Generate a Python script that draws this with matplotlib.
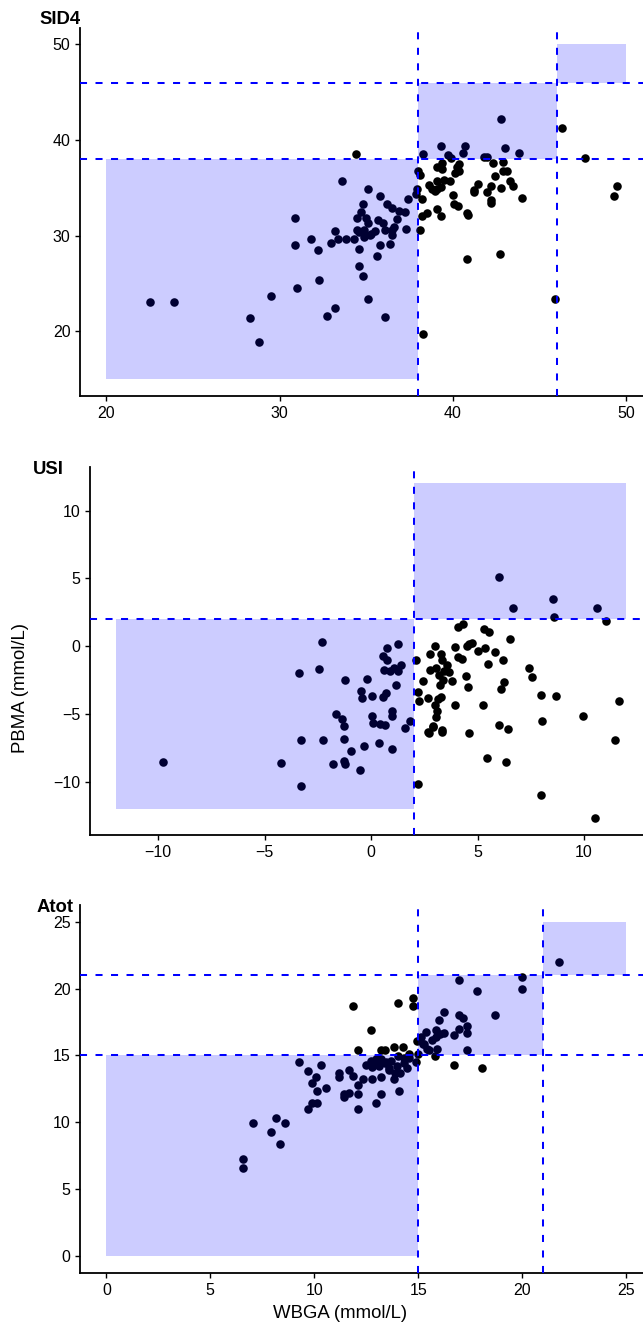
import numpy as np
import matplotlib
matplotlib.use('Agg')
import matplotlib.pyplot as plt
from matplotlib.patches import Rectangle

plt.rcParams['font.family'] = ['Liberation Sans', 'DejaVu Sans']

# --- data ------------------------------------------------------------------
# SID4 panel (WBGA vs PBMA)
sid4_x = [22.51, 23.91, 28.29, 28.79, 29.50, 30.89, 30.89, 30.99, 31.82, 32.20,
          32.29, 32.72, 33.19, 32.98, 33.19, 33.59, 33.38, 33.83, 34.40, 34.30,
          34.49, 34.61, 34.61, 34.61, 34.68, 34.80, 34.80, 34.89, 34.89, 35.01,
          35.11, 35.11, 35.11, 35.20, 35.49, 35.61, 35.70, 35.80, 35.80, 35.98,
          36.10, 36.10, 36.20, 36.39, 36.50, 36.50, 36.60, 36.79, 36.91, 37.22,
          37.29, 37.40, 37.85, 37.93, 38.00, 38.09, 38.09, 38.21, 38.21, 38.30,
          38.30, 38.52, 38.64, 38.80, 38.99, 39.11, 39.11, 39.11, 39.30, 39.30,
          39.30, 39.39, 39.39, 39.51, 39.70, 39.82, 39.89, 40.01, 40.06, 40.13,
          40.22, 40.29, 40.36, 40.36, 40.58, 40.72, 40.81, 40.89, 40.81, 41.24,
          41.24, 41.48, 41.79, 41.95, 41.95, 42.19, 42.19, 42.19, 42.31, 42.42,
          42.71, 42.78, 42.78, 42.90, 42.90, 43.02, 43.14, 43.30, 43.49, 43.80,
          44.01, 45.91, 46.33, 47.63, 49.29, 49.48, 39.11, 36.50, 34.48, 35.25]
sid4_y = [23.09, 23.09, 21.36, 18.89, 23.68, 31.82, 29.04, 24.55, 29.63, 28.55,
          25.42, 21.63, 22.50, 29.28, 30.46, 35.75, 29.66, 29.66, 38.56, 29.66,
          31.85, 28.62, 26.81, 30.39, 32.44, 33.35, 25.84, 30.64, 29.84, 31.85,
          34.91, 23.41, 31.33, 30.11, 30.46, 27.92, 31.68, 34.18, 29.00, 31.33,
          30.64, 21.53, 33.35, 29.17, 32.90, 30.11, 30.88, 31.75, 32.62, 32.48,
          30.71, 33.87, 34.36, 34.91, 36.72, 36.37, 30.57, 33.87, 32.10, 38.56,
          19.76, 32.37, 35.33, 34.91, 34.63, 35.68, 37.24, 32.79, 39.40, 32.10,
          35.09, 37.59, 36.96, 35.85, 38.46, 35.68, 38.11, 34.29, 33.35, 36.55,
          37.24, 33.07, 37.48, 36.82, 38.63, 39.40, 32.37, 32.17, 27.58, 34.53,
          34.81, 35.40, 38.21, 38.21, 34.53, 35.15, 33.76, 33.42, 37.59, 36.27,
          28.10, 42.18, 34.98, 37.76, 36.79, 39.15, 36.82, 35.75, 35.15, 38.70,
          33.94, 23.44, 41.24, 38.11, 34.11, 35.22, 34.90, 30.60, 30.57, 30.22]

# USI panel
usi_x = [-9.77, -4.22, -3.41, -3.28, -3.29, -2.45, -2.29, -2.25, -1.77, -1.64,
         -1.35, -1.25, -1.21, -1.25, -1.29, -1.21, -0.94, -0.54, -0.48, -0.44,
         -0.33, -0.19, 0.04, 0.06, 0.10, 0.39, 0.44, 0.54, 0.54, 0.62,
         0.67, 0.71, 0.73, 0.77, 0.87, 0.96, 0.96, 1.00, 1.06, 1.18,
         1.25, 1.25, 1.41, 1.60, 1.83, 2.12, 2.20, 2.22, 2.27, 2.45,
         2.66, 2.70, 2.76, 2.79, 2.89, 2.99, 2.99, 3.03, 3.04, 3.08,
         3.14, 3.18, 3.22, 3.28, 3.28, 3.31, 3.33, 3.37, 3.43, 3.56,
         3.66, 3.82, 3.95, 3.95, 4.08, 4.08, 4.28, 4.34, 4.47, 4.57,
         4.53, 4.62, 4.62, 4.72, 5.01, 5.26, 5.30, 5.36, 5.49, 5.55,
         5.45, 5.82, 6.03, 6.03, 6.11, 6.20, 6.26, 6.32, 6.45, 6.55,
         6.69, 7.42, 7.55, 8.00, 8.03, 8.00, 8.54, 8.61, 8.71, 9.98,
         10.50, 10.60, 11.02, 11.46, 11.66, 2.93, 3.32, 2.69]
usi_y = [-8.51, -8.61, -1.99, -6.94, -10.28, -1.67, 0.32, -6.96, -8.73, -4.99,
         -5.36, -5.90, -2.53, -6.84, -8.44, -8.68, -7.75, -9.13, -3.32, -3.84,
         -7.40, -2.39, -3.69, -5.17, -5.68, -7.11, -5.73, -0.76, -3.76, -1.75,
         -5.85, -3.44, -1.06, -0.12, -1.85, -4.75, -7.58, -5.19, -1.60, -2.85,
         0.12, -1.80, -1.43, -6.03, -5.56, -1.01, -10.16, -3.35, -4.08, -2.61,
         -3.81, -6.40, -0.57, -1.75, -5.93, 0.00, -4.38, -5.24, -1.62, -4.80,
         -3.89, -2.16, -2.85, -3.76, -0.57, -6.35, -1.06, -2.53, -1.80, -1.43,
         -1.92, -2.61, -0.07, -4.38, 1.40, -0.81, -0.98, 1.65, -2.21, -3.03,
         -0.02, 0.17, -6.42, 0.22, -0.37, -4.33, 1.23, -0.12, -1.35, 1.03,
         -8.24, -0.44, 5.09, -5.81, -3.20, -1.06, -2.66, -8.56, -6.10, 0.49,
         2.80, -1.62, -2.29, -3.64, -5.49, -10.97, 3.44, 2.14, -3.69, -5.17,
         -12.69, 2.80, 1.82, -6.94, -4.06, -5.87, -6.17, -6.31]

# Atot panel
atot_x = [6.59, 6.59, 7.04, 7.91, 8.15, 8.37, 8.58, 9.25, 9.69, 9.69,
          9.91, 9.91, 10.10, 10.12, 10.14, 10.34, 10.56, 11.21, 11.21, 11.41,
          11.45, 11.66, 11.68, 11.88, 11.88, 12.10, 12.12, 12.12, 12.12, 12.33,
          12.51, 12.75, 12.77, 12.77, 12.96, 12.96, 13.22, 13.22, 13.22, 13.42,
          13.42, 13.61, 13.85, 13.85, 13.89, 14.05, 14.05, 14.09, 14.15, 14.29,
          14.34, 14.48, 14.54, 14.74, 14.74, 14.88, 14.94, 14.98, 15.13, 15.23,
          15.39, 15.53, 15.67, 15.82, 15.86, 15.88, 16.02, 16.06, 16.26, 16.26,
          16.71, 16.71, 16.95, 16.95, 16.95, 17.17, 17.36, 17.36, 17.36, 17.84,
          18.05, 18.69, 20.01, 20.01, 21.78, 12.71, 12.95, 13.19, 13.43, 13.68,
          13.11, 13.60, 13.96, 14.32, 14.56, 15.44, 15.92, 15.28]
atot_y = [7.27, 6.58, 9.91, 9.26, 10.33, 8.34, 9.91, 14.52, 13.83, 10.97,
          12.96, 11.47, 13.41, 12.31, 11.42, 14.30, 12.54, 13.65, 13.41, 12.12,
          11.87, 13.90, 12.16, 18.67, 13.46, 15.39, 12.79, 12.12, 11.00, 13.23,
          14.30, 16.93, 13.21, 14.15, 11.47, 14.52, 15.39, 13.41, 12.12, 15.39,
          14.45, 13.90, 15.64, 13.21, 13.70, 18.92, 14.97, 12.34, 13.65, 15.64,
          14.77, 14.08, 15.14, 19.31, 18.67, 14.52, 16.06, 15.14, 16.39, 15.89,
          16.76, 15.39, 16.14, 14.95, 16.88, 16.39, 17.63, 16.58, 18.25, 16.68,
          14.30, 16.51, 20.66, 18.05, 17.01, 17.80, 17.18, 16.68, 15.39, 19.79,
          14.08, 18.02, 20.88, 19.98, 22.00, 14.58, 14.76, 14.71, 14.51, 14.58,
          14.22, 14.09, 14.22, 14.46, 14.83, 15.45, 15.45, 15.82]

# cut-offs and shaded zones (x0, x1, y0, y1)
sid4_cuts = [38, 46]
sid4_zones = [(20, 38, 15, 38), (38, 46, 38, 46), (46, 50, 46, 50)]
usi_cuts = [2]
usi_zones = [(-12, 2, -12, 2), (2, 12, 2, 12)]
atot_cuts = [15, 21]
atot_zones = [(0, 15, 0, 15), (15, 21, 15, 21), (21, 25, 21, 25)]

sid4_ticks = [20, 30, 40, 50]
usi_ticks = [-10, -5, 0, 5, 10]
atot_ticks = [0, 5, 10, 15, 20, 25]

# --- figure ------------------------------------------------------------------
W, H = 643, 1323
fig = plt.figure(figsize=(W / 100, H / 100), dpi=100)


def px_axes(left, right, top, bottom):
    return fig.add_axes([left / W, 1 - bottom / H, (right - left) / W, (bottom - top) / H])


def draw_panel(ax, xs, ys, cuts, zones, ticks, xlim, ylim):
    ax.scatter(xs, ys, s=38, color='black', linewidths=0, zorder=2)
    for x0, x1, y0, y1 in zones:
        ax.add_patch(Rectangle((x0, y0), x1 - x0, y1 - y0, facecolor='blue',
                               alpha=0.2, edgecolor='none', zorder=3))
    for c in cuts:
        ax.axvline(c, color='blue', lw=1.45, ls=(0, (3.5, 4.2)), zorder=4)
        ax.axhline(c, color='blue', lw=1.45, ls=(0, (3.5, 4.2)), zorder=4)
    ax.set_xlim(*xlim)
    ax.set_ylim(*ylim)
    ax.set_xticks(ticks)
    ax.set_yticks(ticks)
    for s in ['top', 'right']:
        ax.spines[s].set_visible(False)
    for s in ['left', 'bottom']:
        ax.spines[s].set_linewidth(1.3)
        ax.spines[s].set_color('black')
    ax.tick_params(direction='out', length=3.6, width=1.0, color='black',
                   labelsize=11.5, labelcolor='black', pad=3.6)


ax1 = px_axes(80.4, 652, 27.7, 396)
draw_panel(ax1, sid4_x, sid4_y, sid4_cuts, sid4_zones, sid4_ticks,
           (18.5, 51.5), (13.25, 51.75))

ax2 = px_axes(90.2, 652, 466.7, 835)
draw_panel(ax2, usi_x, usi_y, usi_cuts, usi_zones, usi_ticks,
           (-13.2, 13.2), (-13.93, 13.23))

ax3 = px_axes(80.4, 652, 905, 1272.7)
draw_panel(ax3, atot_x, atot_y, atot_cuts, atot_zones, atot_ticks,
           (-1.25, 26.25), (-1.25, 26.25))

# panel labels
fig.text(39 / W, 1 - 20 / H, 'SID4', fontsize=13.3, fontweight='bold', va='center', ha='left')
fig.text(33 / W, 1 - 470 / H, 'USI', fontsize=13.3, fontweight='bold', va='center', ha='left')
fig.text(37 / W, 1 - 908 / H, 'Atot', fontsize=13.3, fontweight='bold', va='center', ha='left')

# shared axis labels
fig.text(21 / W, 1 - 688 / H, 'PBMA (mmol/L)', fontsize=13.4, rotation=90,
         va='center', ha='center')
fig.text(340 / W, 1 - 1313 / H, 'WBGA (mmol/L)', fontsize=13.4,
         va='center', ha='center')

fig.savefig('out.png', dpi=100)
